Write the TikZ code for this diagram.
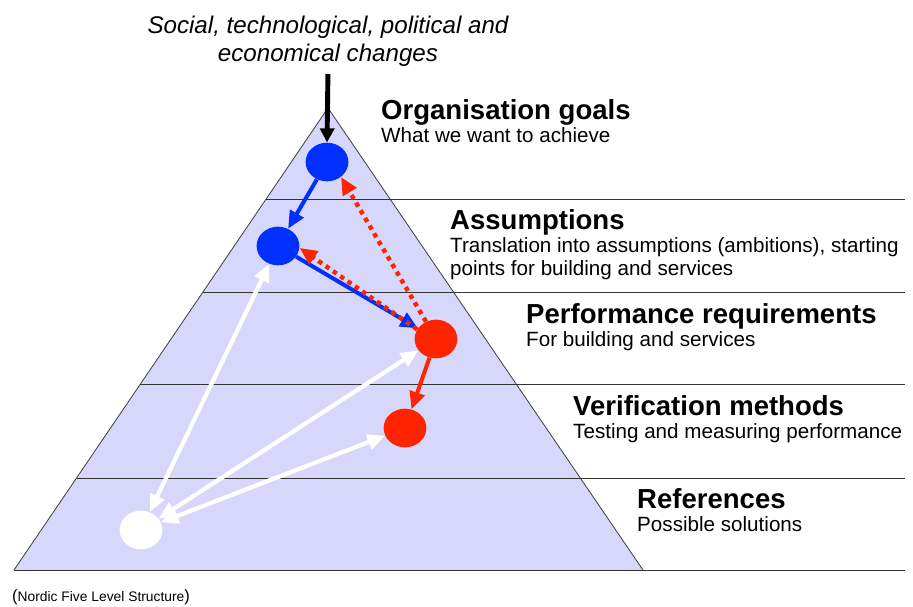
\documentclass[tikz,border=0pt]{standalone}
\usepackage{fontspec}
\setmainfont{Liberation Sans}
\usetikzlibrary{arrows.meta,shapes.geometric}

\definecolor{pyrfill}{RGB}{214,215,250}
\definecolor{ballblue}{RGB}{0,48,255}
\definecolor{ballred}{RGB}{255,36,0}

\begin{document}
\begin{tikzpicture}[x=0.03cm,y=-0.03cm,
		ball/.style={ellipse,minimum width=36.5pt,minimum height=33pt,inner sep=0pt},
		flow/.style={line width=3.4pt,-{Triangle[length=15pt,width=13pt]}},
		back/.style={flow,dash pattern=on 3.8pt off 3.8pt,line width=3.8pt},
		link/.style={line width=3.6pt,white,{Triangle[length=15pt,width=13pt]}-{Triangle[length=15pt,width=13pt]}},
		title/.style={anchor=base west,inner sep=0pt,font=\fontsize{23.5}{27}\selectfont\bfseries},
		note/.style={anchor=base west,inner sep=0pt,font=\fontsize{17.6}{19.6}\selectfont,align=left}]
		\useasboundingbox (0,0) rectangle (913,606);

		% PYRAMID
		\fill[pyrfill] (328,108) -- (643,570) -- (14,570) -- cycle;
		\draw[black!75,line width=0.7pt] (14,570) -- (328,108) -- (643,570);

		% Level lines, from the left side of the pyramid out to the right.
		\foreach \y in {199,292,384,478,570}{
			\draw[black!80,line width=0.8pt] ({328-0.6797*(\y-108)},\y) -- (905,\y);
		}

		% LEVELS
		\node[ball,fill=ballblue] (goal)    at (327,162) {};
		\node[ball,fill=ballblue] (assume)  at (278,246) {};
		\node[ball,fill=ballred]  (perform) at (436,339) {};
		\node[ball,fill=ballred]  (verify)  at (405,428) {};
		\node[ball,fill=white]    (ref)     at (141,530) {};

		% Outside influence.
		\node[font=\fontsize{20.6}{24}\selectfont\itshape,align=center] (changes) at (328,41)
			{Social, technological, political and\\economical changes};
		\draw[line width=4.2pt,-{Triangle[length=12pt,width=12pt]},shorten <=3pt] (changes.south) -- (goal.north);

		% Flow down and feedback up.
		\draw[flow,ballblue] (goal) -- (assume);
		\draw[flow,ballblue] (assume) -- (perform);
		\draw[flow,ballred]  (perform) -- (verify);
		\draw[back,ballred]  (perform.120) -- (goal.-47);
		\draw[back,ballred]  (perform.153) -- (assume.-5);

		% References link back to the levels above.
		\draw[link] (ref) -- (assume);
		\draw[link] (ref) -- (perform);
		\draw[link] (ref) -- (verify);

		% Labels
		\node[title] (goalT)    at (381,119) {Organisation goals};
		\node[note]  (goalN)    at (381,142) {What we want to achieve};
		\node[title] (assumeT)  at (450,229) {Assumptions};
		\node[note]  (assumeN)  at (450,275) {Translation into assumptions (ambitions), starting\\points for building and services};
		\node[title] (performT) at (526,323) {Performance requirements};
		\node[note]  (performN) at (526,346) {For building and services};
		\node[title] (verifyT)  at (573,415) {Verification methods};
		\node[note]  (verifyN)  at (573,438) {Testing and measuring performance};
		\node[title] (refT)     at (637,508) {References};
		\node[note]  (refN)     at (637,531) {Possible solutions};

		\node[anchor=base west,inner sep=0pt,font=\fontsize{11.8}{13}\selectfont] (caption) at (12,601)
			{{\fontsize{14}{14}\selectfont(}Nordic Five Level Structure{\fontsize{14}{14}\selectfont)}};
	\end{tikzpicture}
\end{document}
